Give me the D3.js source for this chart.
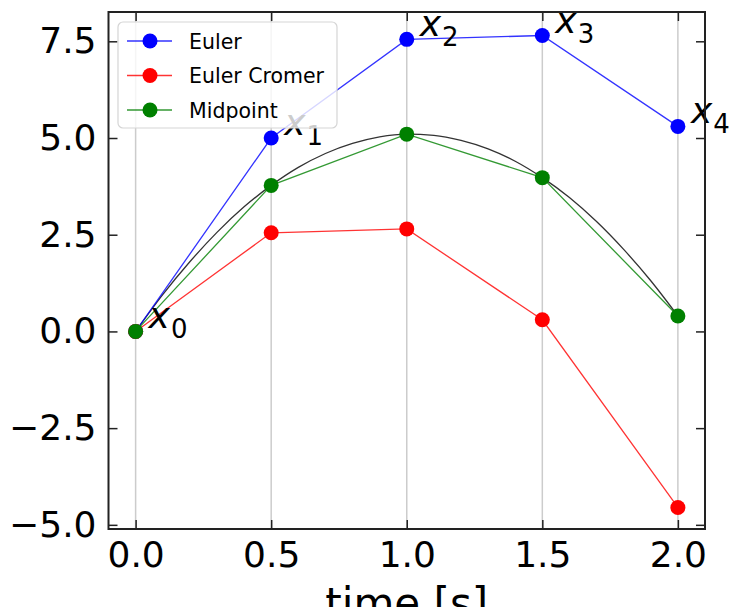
<!DOCTYPE html>
<html>
<head>
<meta charset="utf-8">
<script src="https://cdn.jsdelivr.net/npm/d3@7"></script>
<style>
  body { margin: 0; background: #fff; }
  svg { display: block; font-family: "DejaVu Sans", sans-serif; }
</style>
</head>
<body>
<script>
// Time steps (s) and the three integrator results
var times = [0.0, 0.5, 1.0, 1.5, 2.0];
var euler = [0.0, 5.0, 7.55, 7.65, 5.3];
var eulerCromer = [0.0, 2.55, 2.65, 0.3, -4.55];
var midpoint = [0.0, 3.775, 5.1, 3.975, 0.4];

// Exact curve, every 0.1 s
var exactTimes = [0.0, 0.1, 0.2, 0.3, 0.4, 0.5, 0.6, 0.7, 0.8, 0.9, 1.0,
                  1.1, 1.2, 1.3, 1.4, 1.5, 1.6, 1.7, 1.8, 1.9, 2.0];
var exactValues = [0.0, 0.95, 1.8, 2.56, 3.22, 3.775, 4.24, 4.6, 4.86, 5.03, 5.1,
                   5.07, 4.94, 4.72, 4.4, 3.975, 3.46, 2.84, 2.12, 1.31, 0.4];

// Tick values and point labels
var xTicks = [0.0, 0.5, 1.0, 1.5, 2.0];
var yTicks = [-5.0, -2.5, 0.0, 2.5, 5.0, 7.5];
var pointLabels = ["0", "1", "2", "3", "4"];

var seriesNames = ["Euler", "Euler Cromer", "Midpoint"];
var seriesColors = ["#0000ff", "#ff0000", "#008000"];

var canvas = {w: 731, h: 607},
    box = {left: 108.5, right: 705, top: 12, bottom: 529};

var svg = d3.select("body").append("svg")
    .attr("width", canvas.w)
    .attr("height", canvas.h);

// matplotlib style 5% padding on both axes
var x = d3.scaleLinear().domain([-0.1, 2.1]).range([box.left, box.right]);
var y = d3.scaleLinear().domain([-5.1075, 8.2575]).range([box.bottom, box.top]);

var fmt = d3.format(".1f");

// vertical grid lines only
svg.append("g")
    .attr("class", "grid")
    .selectAll("line")
    .data(xTicks)
    .enter().append("line")
        .attr("x1", function(d) { return x(d); })
        .attr("x2", function(d) { return x(d); })
        .attr("y1", box.top)
        .attr("y2", box.bottom)
        .attr("stroke", "#cccccc")
        .attr("stroke-width", 1.5);

// shared look for tick marks / labels
function styleTicks(g) {
    g.select(".domain").remove();
    g.selectAll(".tick line").attr("stroke", "#222").attr("stroke-width", 1.5);
    g.selectAll(".tick text")
        .style("font-size", "36px")
        .style("font-family", "'DejaVu Sans'")
        .attr("fill", "#000");
}

// bottom + left axes with inward ticks
var tickLen = 9;
svg.append("g")
    .attr("transform", "translate(0," + box.bottom + ")")
    .call(d3.axisBottom(x).tickValues(xTicks).tickFormat(fmt).tickSize(-tickLen).tickPadding(12))
    .call(styleTicks);

svg.append("g")
    .attr("transform", "translate(" + box.left + ",0)")
    .call(d3.axisLeft(y).tickValues(yTicks).tickFormat(fmt).tickSize(-tickLen).tickPadding(12))
    .call(styleTicks);

// top + right: ticks only, no labels
svg.append("g")
    .attr("transform", "translate(0," + box.top + ")")
    .call(d3.axisTop(x).tickValues(xTicks).tickFormat("").tickSize(-tickLen))
    .call(styleTicks);

svg.append("g")
    .attr("transform", "translate(" + box.right + ",0)")
    .call(d3.axisRight(y).tickValues(yTicks).tickFormat("").tickSize(-tickLen))
    .call(styleTicks);

// exact solution
var curve = d3.line()
    .curve(d3.curveMonotoneX)
    .x(function(d) { return x(d[0]); })
    .y(function(d) { return y(d[1]); });

svg.append("path")
    .attr("d", curve(d3.zip(exactTimes, exactValues)))
    .attr("fill", "none")
    .attr("stroke", "#333")
    .attr("stroke-width", 1.3);

// the three integrators
var straight = d3.line()
    .x(function(d) { return x(d[0]); })
    .y(function(d) { return y(d[1]); });

var series = [euler, eulerCromer, midpoint].map(function(vals, i) {
    return {name: seriesNames[i], color: seriesColors[i], values: d3.zip(times, vals)};
});

var sg = svg.selectAll(".series")
    .data(series)
    .enter().append("g")
    .attr("class", "series");

sg.append("path")
    .attr("d", function(d) { return straight(d.values); })
    .attr("fill", "none")
    .attr("stroke", function(d) { return d.color; })
    .attr("stroke-opacity", 0.8)
    .attr("stroke-width", 1.3);

sg.selectAll("circle")
    .data(function(d) { return d.values.map(function(v) { return {v: v, color: d.color}; }); })
    .enter().append("circle")
        .attr("cx", function(d) { return x(d.v[0]); })
        .attr("cy", function(d) { return y(d.v[1]); })
        .attr("r", 7.5)
        .attr("fill", function(d) { return d.color; });

// x_n labels next to the Euler points
var lab = svg.selectAll(".plabel")
    .data(times)
    .enter().append("text")
    .attr("class", "plabel")
    .attr("x", function(d) { return x(d) + 13; })
    .attr("y", function(d, i) { return y(euler[i]) - 3; })
    .attr("fill", "#000");

lab.append("tspan")
    .style("font-size", "36px")
    .style("font-style", "italic")
    .text("x");
lab.append("tspan")
    .style("font-size", "26px")
    .attr("dx", 1)
    .attr("dy", 10)
    .text(function(d, i) { return pointLabels[i]; });

// frame
svg.append("rect")
    .attr("x", box.left)
    .attr("y", box.top)
    .attr("width", box.right - box.left)
    .attr("height", box.bottom - box.top)
    .attr("fill", "none")
    .attr("stroke", "#222")
    .attr("stroke-width", 2);

// legend
var legend = svg.append("g").attr("transform", "translate(118,22)");
legend.append("rect")
    .attr("width", 219)
    .attr("height", 106)
    .attr("rx", 5)
    .attr("fill", "#fff")
    .attr("fill-opacity", 0.8)
    .attr("stroke", "#d5d5d5")
    .attr("stroke-width", 1.2);

var rows = legend.selectAll(".lrow")
    .data(series)
    .enter().append("g")
    .attr("transform", function(d, i) { return "translate(0," + (19 + i * 34.5) + ")"; });

rows.append("line")
    .attr("x1", 9).attr("x2", 54)
    .attr("stroke", function(d) { return d.color; })
    .attr("stroke-opacity", 0.8)
    .attr("stroke-width", 1.3);
rows.append("circle")
    .attr("cx", 32)
    .attr("r", 7.5)
    .attr("fill", function(d) { return d.color; });
rows.append("text")
    .attr("x", 71)
    .attr("y", 7.5)
    .style("font-size", "20.5px")
    .attr("fill", "#000")
    .text(function(d) { return d.name; });

// x label, mostly cut off by the bottom edge (as in the source figure)
svg.append("text")
    .attr("x", (box.left + box.right) / 2)
    .attr("y", 618)
    .attr("text-anchor", "middle")
    .style("font-size", "42px")
    .attr("fill", "#000")
    .text("time [s]");
</script>
</body>
</html>
